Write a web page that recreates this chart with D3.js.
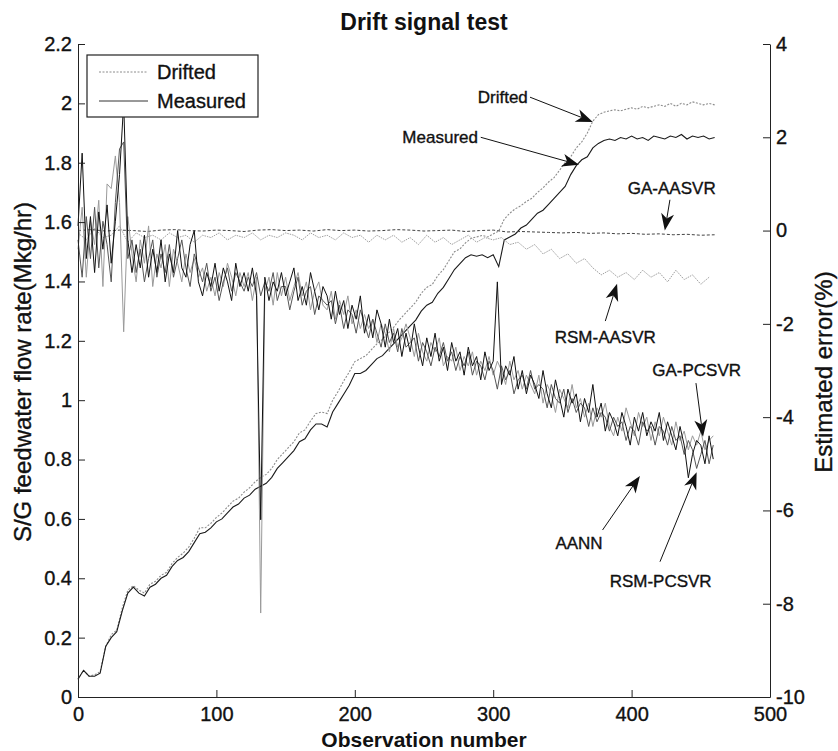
<!DOCTYPE html>
<html>
<head>
<meta charset="utf-8">
<script src="https://cdn.jsdelivr.net/npm/d3@7"></script>
<style>
  body { margin: 0; background: #fff; }
  svg text { font-family: "Liberation Sans", Arial, Helvetica, sans-serif; fill: #111; }
  svg text.heavy { stroke: #111; stroke-width: 0.35px; }
</style>
</head>
<body>
<svg id="chart" width="838" height="751"></svg>
<script>
// observation numbers for each sampling of the traces
var obsFlow = d3.range(0, 461, 4);
var obsBand = d3.range(0, 460, 3);
var obsRsmAasvr = d3.range(0, 457, 6);
var obsGaAasvr = d3.range(0, 461, 10);

var xTicks = [0, 100, 200, 300, 400, 500];
var leftTicks = [0, 0.2, 0.4, 0.6, 0.8, 1, 1.2, 1.4, 1.6, 1.8, 2, 2.2];
var rightTicks = [-10, -8, -6, -4, -2, 0, 2, 4];

// S/G feedwater flow rate (Mkg/hr), left axis
var measured = [
  0.06, 0.09, 0.07, 0.07, 0.08, 0.17, 0.20, 0.22, 0.29, 0.35,
  0.37, 0.35, 0.34, 0.37, 0.38, 0.40, 0.41, 0.44, 0.46, 0.47,
  0.49, 0.52, 0.55, 0.555, 0.57, 0.59, 0.60, 0.62, 0.64, 0.65,
  0.67, 0.68, 0.70, 0.71, 0.72, 0.74, 0.77, 0.79, 0.81, 0.83,
  0.86, 0.87, 0.90, 0.92, 0.92, 0.91, 0.96, 0.99, 1.02, 1.05,
  1.09, 1.09, 1.10, 1.12, 1.14, 1.15, 1.17, 1.19, 1.21, 1.23,
  1.25, 1.27, 1.30, 1.32, 1.33, 1.36, 1.38, 1.41, 1.44, 1.46,
  1.48, 1.49, 1.485, 1.49, 1.48, 1.49, 1.45, 1.54, 1.55, 1.56,
  1.58, 1.59, 1.61, 1.63, 1.64, 1.66, 1.68, 1.70, 1.72, 1.76,
  1.79, 1.81, 1.82, 1.85, 1.865, 1.875, 1.88, 1.875, 1.885, 1.88,
  1.89, 1.88, 1.885, 1.875, 1.89, 1.885, 1.88, 1.89, 1.885, 1.895,
  1.88, 1.89, 1.885, 1.89, 1.88, 1.885
];
var drifted = [
  0.06, 0.09, 0.07, 0.075, 0.085, 0.17, 0.21, 0.225, 0.30, 0.36,
  0.375, 0.36, 0.35, 0.38, 0.39, 0.41, 0.42, 0.45, 0.47, 0.485,
  0.505, 0.535, 0.57, 0.57, 0.585, 0.605, 0.62, 0.64, 0.66, 0.67,
  0.69, 0.705, 0.725, 0.74, 0.75, 0.77, 0.80, 0.82, 0.84, 0.86,
  0.89, 0.90, 0.93, 0.955, 0.96, 0.955, 1.0, 1.03, 1.065, 1.095,
  1.13, 1.14, 1.15, 1.17, 1.19, 1.205, 1.225, 1.245, 1.27, 1.29,
  1.31, 1.33, 1.36, 1.38, 1.39, 1.42, 1.44, 1.47, 1.50, 1.51,
  1.53, 1.545, 1.55, 1.555, 1.55, 1.56, 1.57, 1.61, 1.63, 1.645,
  1.655, 1.67, 1.68, 1.70, 1.715, 1.735, 1.75, 1.775, 1.80, 1.82,
  1.85, 1.87, 1.90, 1.94, 1.962, 1.97, 1.975, 1.978, 1.975, 1.98,
  1.985, 1.98, 1.99, 1.985, 1.99, 1.995, 1.99, 2.0, 1.99, 2.0,
  1.995, 2.005, 2.0, 1.995, 2.0, 1.995
];

// Estimated error (%), right axis
var gaAasvr = [
  0.00, 0.02, -0.01, 0.01, 0.00, -0.02, 0.01, 0.02, 0.00, -0.01,
  0.01, 0.00, -0.02, 0.01, 0.02, 0.00, 0.01, -0.01, 0.02, 0.00,
  0.01, -0.01, 0.00, 0.02, 0.01, -0.01, 0.00, 0.01, -0.02, 0.00,
  0.01, -0.03, -0.02, -0.03, -0.04, -0.05, -0.04, -0.06, -0.05, -0.07,
  -0.06, -0.08, -0.07, -0.09, -0.08, -0.10, -0.09
];
var rsmAasvr = [
  -0.05, -0.2, 0.05, -0.15, -0.1, 0.1, -0.25, -0.05, -0.15, -0.1,
  -0.2, -0.05, -0.15, -0.1, -0.25, -0.1, -0.15, -0.05, -0.2, -0.1,
  -0.15, -0.05, -0.2, -0.1, -0.15, -0.05, -0.1, -0.2, -0.05, -0.15,
  -0.1, -0.2, -0.05, -0.15, -0.1, -0.25, -0.1, -0.2, -0.1, -0.25,
  -0.15, -0.3, -0.1, -0.25, -0.15, -0.3, -0.2, -0.1, -0.25, -0.15,
  -0.2, -0.15, -0.3, -0.25, -0.4, -0.3, -0.5, -0.4, -0.6, -0.5,
  -0.7, -0.6, -0.8, -0.95, -0.85, -1.0, -0.9, -1.05, -0.85, -1.0,
  -0.9, -1.1, -0.85, -1.05, -0.95, -1.15, -1.0
];
var aann = [
  0.1, 1.66, -0.6, 0.3, -0.9, 0.4, -0.4, 0.55, -0.7, 0.2,
  1.2, 2.73, -0.2, -0.9, -0.3, -0.8, -0.1, -1.0, -0.4, -0.9,
  -0.2, -1.1, -0.5, -0.9, 0.0, -0.8, -1.0, -0.3, 0.0, -1.1,
  -1.4, -0.9, -1.2, -0.7, -1.3, -0.8, -1.1, -1.5, -0.7, -1.2,
  -0.9, -1.3, -0.8, -1.4, -6.2, -1.0, -1.5, -1.1, -1.3, -0.9,
  -1.4, -1.1, -0.8, -1.5, -1.2, -1.6, -0.9, -1.3, -1.7, -1.2,
  -1.4, -1.9, -1.3, -1.8, -1.5, -2.1, -1.6, -1.9, -1.4, -2.2,
  -1.8, -2.3, -1.7, -2.0, -2.5, -1.9, -2.4, -2.1, -2.7, -2.2,
  -2.6, -2.0, -2.5, -2.9, -2.3, -2.7, -2.2, -2.8, -2.5, -3.0,
  -2.4, -2.8, -2.6, -3.1, -2.5, -2.9, -2.7, -3.2, -2.6, -3.0,
  -2.8, -1.1, -3.3, -2.9, -3.1, -2.7, -3.4, -3.0, -3.5, -3.1,
  -3.3, -3.6, -3.0, -3.5, -3.8, -3.2, -3.6, -4.0, -3.4, -3.7,
  -3.5, -4.1, -3.6, -3.9, -3.3, -4.0, -3.7, -4.3, -3.9, -4.1,
  -4.4, -3.9, -4.2, -4.6, -4.0, -4.3, -3.9, -4.4, -4.1, -4.3,
  -3.9, -4.5, -4.1, -4.4, -4.7, -4.2, -4.6, -5.3, -4.8, -4.5,
  -4.6, -5.0, -4.4, -4.9
];
var gaPcsvr = [
  -0.4, 0.5, -1.0, 0.2, -0.3, 0.65, -1.2, 1.0, 0.9, 1.6,
  0.6, -2.17, 0.3, -0.5, -1.1, -0.2, -0.7, 0.1, -1.2, -0.5,
  -0.8, -0.3, -1.2, -0.4, -0.7, -1.1, -0.5, -0.9, -0.6, -1.0,
  -0.8, -1.3, -1.0, -1.4, -0.9, -1.2, -0.7, -1.0, -1.4, -0.9,
  -1.2, -0.9, -1.5, -1.0, -8.2, -1.3, -1.0, -1.6, -0.9, -1.4,
  -1.0, -1.5, -1.2, -0.9, -1.4, -1.1, -1.7, -1.3, -1.1, -1.6,
  -1.7, -1.3, -1.9, -1.5, -1.8, -1.4, -2.0, -1.7, -2.1, -1.8,
  -2.1, -1.9, -2.4, -2.0, -2.2, -2.6, -2.1, -2.5, -2.3, -2.0,
  -2.3, -2.7, -2.2, -2.6, -2.8, -2.4, -2.6, -2.3, -2.9, -2.7,
  -2.8, -2.5, -3.0, -2.7, -2.9, -2.6, -3.1, -2.8, -3.0, -2.7,
  -3.1, -2.8, -3.0, -3.3, -2.8, -3.2, -3.0, -3.4, -3.1, -3.3,
  -3.5, -3.1, -3.7, -3.3, -3.5, -3.9, -3.4, -3.6, -3.8, -3.3,
  -3.8, -3.6, -4.0, -3.7, -4.2, -3.8, -4.0, -3.7, -4.2, -4.4,
  -4.0, -4.3, -3.8, -4.1, -4.4, -3.9, -4.2, -4.0, -4.5, -4.1,
  -4.4, -4.0, -4.3, -4.6, -4.1, -4.5, -4.3, -4.7, -4.4, -4.6,
  -4.3, -4.7, -4.5, -4.4
];
var rsmPcsvr = [
  -0.2, -1.0, 0.3, -0.6, 0.5, -0.8, 0.2, -0.3, -1.1, 0.6,
  1.75, 1.9, -0.6, -0.2, -0.9, -0.4, -1.1, -0.6, -0.2, -1.0,
  -0.5, -0.9, -0.3, -1.0, -0.6, -0.2, -0.8, -1.2, -0.5, -0.8,
  -1.1, -0.7, -1.3, -1.0, -1.5, -1.1, -0.8, -1.3, -0.9, -1.1,
  -1.3, -1.0, -1.2, -0.9, -1.4, -1.1, -1.3, -0.9, -1.5, -1.2,
  -1.2, -1.7, -1.3, -1.0, -1.6, -1.3, -1.2, -1.8, -1.4, -1.5,
  -1.6, -1.5, -2.0, -1.6, -2.1, -1.7, -1.8, -2.2, -1.7, -2.0,
  -2.3, -1.9, -2.2, -2.5, -2.0, -2.4, -2.2, -2.6, -2.1, -2.5,
  -2.4, -2.3, -2.8, -2.4, -2.6, -2.9, -2.5, -2.7, -2.4, -2.8,
  -2.6, -3.0, -2.7, -2.9, -2.6, -3.1, -2.8, -2.9, -3.2, -2.8,
  -3.0, -3.4, -2.9, -3.2, -3.0, -3.5, -3.2, -3.1, -3.4, -3.0,
  -3.4, -3.3, -3.4, -3.8, -3.3, -3.6, -3.7, -3.4, -3.9, -3.6,
  -3.9, -3.7, -3.8, -4.2, -3.8, -4.1, -3.9, -4.0, -4.3, -4.0,
  -4.2, -4.1, -4.5, -4.2, -4.3, -4.6, -4.1, -4.3, -4.2, -4.6,
  -4.2, -4.3, -4.6, -4.2, -4.5, -4.4, -4.8, -4.5, -4.7, -5.1,
  -4.8, -4.5, -5.0, -4.6
];

// callouts: text spot and arrow (obs, error %)
var notes = [
  { text: "Drifted", tx: 325, ty: 2.74, anchor: "end", from: [326.6, 2.86], to: [372, 2.33] },
  { text: "Measured", tx: 289, ty: 1.88, anchor: "end", from: [291, 2.0], to: [362, 1.41] },
  { text: "GA-AASVR", tx: 429, ty: 0.78, anchor: "middle", from: [427.7, 0.66], to: [424, 0.0] },
  { text: "RSM-AASVR", tx: 381, ty: -2.41, anchor: "middle", from: [381, -1.94], to: [389.5, -1.14] },
  { text: "GA-PCSVR", tx: 447, ty: -3.12, anchor: "middle", from: [446.5, -3.27], to: [451.6, -4.42] },
  { text: "AANN", tx: 362, ty: -6.83, anchor: "middle", from: [379, -6.42], to: [406, -5.26] },
  { text: "RSM-PCSVR", tx: 421, ty: -7.64, anchor: "middle", from: [420.5, -7.1], to: [447, -5.18] }
];

var svg = d3.select("#chart");
var plotL = 78, plotR = 770, plotT = 44, plotB = 697;

var x = d3.scaleLinear().domain([0, 500]).range([plotL, plotR]);
var yL = d3.scaleLinear().domain([0, 2.2]).range([plotB, plotT]);
var yR = d3.scaleLinear().domain([-10, 4]).range([plotB, plotT]);

function pairs(xs, ys) {
  var n = Math.min(xs.length, ys.length);
  return d3.range(n).map(function(i) { return [xs[i], ys[i]]; });
}

var lineL = d3.line().x(function(d) { return x(d[0]); }).y(function(d) { return yL(d[1]); });
var lineR = d3.line().x(function(d) { return x(d[0]); }).y(function(d) { return yR(d[1]); });

var plot = svg.append("g");

// flow curves
plot.append("path").datum(pairs(obsFlow, drifted)).attr("d", lineL)
  .attr("fill", "none").attr("stroke", "#8c8c8c").attr("stroke-width", 1.1).attr("stroke-dasharray", "2,1.5");
plot.append("path").datum(pairs(obsFlow, measured)).attr("d", lineL)
  .attr("fill", "none").attr("stroke", "#1a1a1a").attr("stroke-width", 1.1);

// error curves
plot.append("path").datum(pairs(obsRsmAasvr, rsmAasvr)).attr("d", lineR)
  .attr("fill", "none").attr("stroke", "#a0a0a0").attr("stroke-width", 1).attr("stroke-dasharray", "1.5,1");
plot.append("path").datum(pairs(obsGaAasvr, gaAasvr)).attr("d", lineR)
  .attr("fill", "none").attr("stroke", "#444").attr("stroke-width", 1).attr("stroke-dasharray", "3,2");
plot.append("path").datum(pairs(obsBand, gaPcsvr)).attr("d", lineR)
  .attr("fill", "none").attr("stroke", "#9a9a9a").attr("stroke-width", 1);
plot.append("path").datum(pairs(obsBand, rsmPcsvr)).attr("d", lineR)
  .attr("fill", "none").attr("stroke", "#555").attr("stroke-width", 1);
plot.append("path").datum(pairs(obsBand, aann)).attr("d", lineR)
  .attr("fill", "none").attr("stroke", "#111").attr("stroke-width", 1);

// axes, ticks point inward like the original
var fmt = function(d) { return String(+d.toFixed(1)); };
var gx = svg.append("g").attr("transform", "translate(0," + plotB + ")")
  .call(d3.axisBottom(x).tickValues(xTicks).tickFormat(fmt).tickSizeInner(-7).tickSizeOuter(0).tickPadding(10));
var gl = svg.append("g").attr("transform", "translate(" + plotL + ",0)")
  .call(d3.axisLeft(yL).tickValues(leftTicks).tickFormat(fmt).tickSizeInner(-7).tickSizeOuter(0).tickPadding(6));
var gr = svg.append("g").attr("transform", "translate(" + plotR + ",0)")
  .call(d3.axisRight(yR).tickValues(rightTicks).tickFormat(fmt).tickSizeInner(-7).tickSizeOuter(0).tickPadding(6));
[gx, gl, gr].forEach(function(g) {
  g.attr("font-family", null).attr("font-size", null);
  g.selectAll("text").attr("font-size", "20px").attr("fill", "#111").attr("class", "heavy");
  g.selectAll("line, path").attr("stroke", "#222");
});

// titles
svg.append("text").attr("x", (plotL + plotR) / 2).attr("y", 30).attr("text-anchor", "middle")
  .attr("font-size", "23px").attr("font-weight", "bold").text("Drift signal test");
svg.append("text").attr("x", (plotL + plotR) / 2).attr("y", 747).attr("text-anchor", "middle")
  .attr("font-size", "21px").attr("font-weight", "bold").text("Observation number");
svg.append("text").attr("transform", "translate(31,372) rotate(-90)").attr("text-anchor", "middle")
  .attr("font-size", "24px").attr("class", "heavy").text("S/G feedwater flow rate(Mkg/hr)");
svg.append("text").attr("transform", "translate(832,372) rotate(-90)").attr("text-anchor", "middle")
  .attr("font-size", "24px").attr("class", "heavy").text("Estimated error(%)");

// legend
var lg = svg.append("g");
lg.append("rect").attr("x", 87).attr("y", 55).attr("width", 171).attr("height", 62)
  .attr("fill", "#fff").attr("stroke", "#222").attr("stroke-width", 1.2);
lg.append("line").attr("x1", 99).attr("x2", 148).attr("y1", 72).attr("y2", 72)
  .attr("stroke", "#8c8c8c").attr("stroke-dasharray", "2,1.5");
lg.append("line").attr("x1", 99).attr("x2", 148).attr("y1", 101).attr("y2", 101)
  .attr("stroke", "#333");
lg.append("text").attr("x", 157).attr("y", 79).attr("font-size", "20px").attr("class", "heavy").text("Drifted");
lg.append("text").attr("x", 157).attr("y", 108).attr("font-size", "20px").attr("class", "heavy").text("Measured");

// callouts with filled arrowheads
var ann = svg.append("g");
notes.forEach(function(n) {
  var x1 = x(n.from[0]), y1 = yR(n.from[1]), x2 = x(n.to[0]), y2 = yR(n.to[1]);
  var dx = x2 - x1, dy = y2 - y1, len = Math.sqrt(dx * dx + dy * dy);
  var ux = dx / len, uy = dy / len, L = 17, W = 6.5;
  var bx = x2 - ux * L, by = y2 - uy * L;
  var nx = x2 - ux * L * 0.72, ny = y2 - uy * L * 0.72;
  ann.append("line").attr("x1", x1).attr("y1", y1).attr("x2", nx).attr("y2", ny)
    .attr("stroke", "#111").attr("stroke-width", 1);
  ann.append("path")
    .attr("d", "M" + x2 + "," + y2 + "L" + (bx - uy * W) + "," + (by + ux * W) +
      "L" + nx + "," + ny + "L" + (bx + uy * W) + "," + (by - ux * W) + "Z")
    .attr("fill", "#111");
  ann.append("text").attr("x", x(n.tx)).attr("y", yR(n.ty)).attr("text-anchor", n.anchor)
    .attr("font-size", "17px").attr("class", "heavy").text(n.text);
});
</script>
</body>
</html>
